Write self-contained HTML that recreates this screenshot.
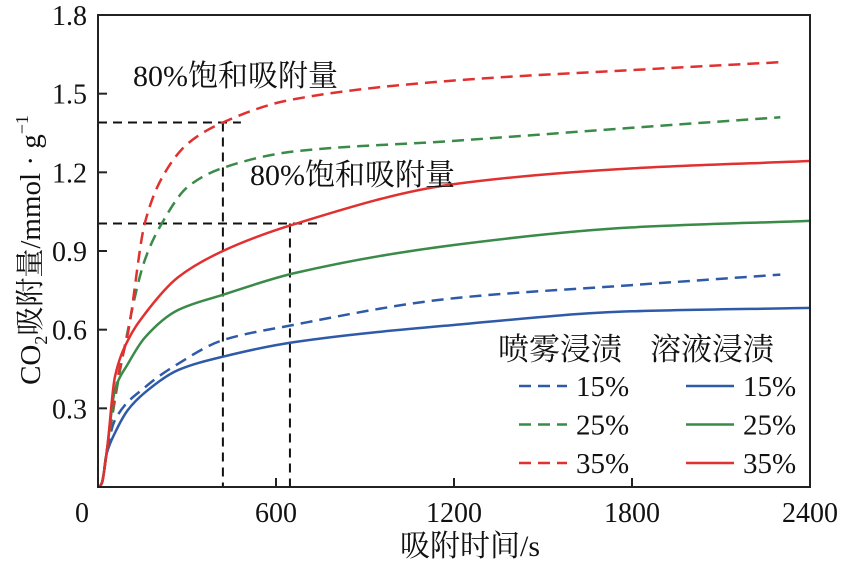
<!DOCTYPE html>
<html><head><meta charset="utf-8"><style>
body{margin:0;background:#fff}
svg text{font-family:"Liberation Serif","Noto Serif CJK SC",serif;fill:#111}
</style></head><body>
<svg width="850" height="565" viewBox="0 0 850 565">
<g id="ticks"></g>
<g id="marks"></g>
<rect x="98" y="15" width="712" height="472" fill="none" stroke="#222" stroke-width="2"/>
<text x="470" y="556" font-size="30" text-anchor="middle">吸附时间/s</text>
<text transform="translate(40,250) rotate(-90)" font-size="29" text-anchor="middle">CO<tspan font-size="18" dy="7">2</tspan><tspan dy="-7">吸附量/mmol · g</tspan><tspan font-size="18" dy="-12">−1</tspan></text>
<text x="133" y="86" font-size="30">80%饱和吸附量</text>
<text x="250" y="185" font-size="30">80%饱和吸附量</text>
<g id="legend"></g>
</svg>
<script>
const xTicks=[0,600,1200,1800,2400];
const yTicks=[0,0.3,0.6,0.9,1.2,1.5,1.8];
const yTickLabels=["","0.3","0.6","0.9","1.2","1.5","1.8"];
const tS35=[5,13,30,67,101,158,216,303,421,647,1200,1800,2300];
const spray35=[0,0.015,0.14,0.42,0.587,1.007,1.18,1.31,1.39,1.476,1.55,1.59,1.62];
const tS25=[5,13,30,81,158,216,303,421,664,1200,1800,2300];
const spray25=[0,0.015,0.14,0.485,0.866,1.007,1.145,1.217,1.28,1.32,1.37,1.41];
const tS15=[5,13,30,57,158,270,421,640,1200,1800,2300];
const spray15=[0,0.015,0.14,0.255,0.38,0.47,0.56,0.614,0.72,0.77,0.81];
const tL35=[5,13,30,57,101,158,270,421,664,1200,1800,2400];
const sol35=[0,0.015,0.14,0.42,0.56,0.66,0.80,0.90,1.003,1.155,1.215,1.243];
const tL25=[5,13,30,57,101,158,270,421,664,1200,1800,2400];
const sol25=[0,0.015,0.14,0.37,0.47,0.57,0.675,0.733,0.816,0.923,0.99,1.015];
const tL15=[5,13,30,57,101,158,270,421,664,1200,1800,2400];
const sol15=[0,0.015,0.13,0.206,0.294,0.36,0.446,0.497,0.553,0.618,0.67,0.683];
const satTimes=[421,647];
const satValues=[1.39,1.005];
const X=t=>98+t*(712/2400), Y=v=>487-v*(472/1.8);
const NS="http://www.w3.org/2000/svg";
function mk(tag,attrs,parent){const e=document.createElementNS(NS,tag);for(const k in attrs)e.setAttribute(k,attrs[k]);document.getElementById(parent).appendChild(e);return e;}
xTicks.forEach(t=>{
 const l=mk('line',{x1:X(t),x2:X(t),y1:487,y2:478,stroke:'#222','stroke-width':2},'ticks');
 
 
 const tx=mk('text',{x:t===0?82:X(t),y:522,'font-size':28,'text-anchor':'middle'},'ticks');tx.textContent=t;
 
 
});
yTicks.forEach((v,i)=>{
 const l=mk('line',{x1:98,x2:107,y1:Y(v),y2:Y(v),stroke:'#222','stroke-width':2},'ticks');
 
 
 const tx=mk('text',{x:87,y:Y(v)+10,'font-size':28,'text-anchor':'end'},'ticks');tx.textContent=yTickLabels[i];
 
 
});
satTimes.forEach((t,i)=>{
 const v=satValues[i];
 const g=mk('path',{d:`M98,${Y(v)}H${X(t)+(i==0?18:28)}M${X(t)},${Y(v)}V487`,fill:'none',stroke:'#111','stroke-width':2,'stroke-dasharray':'9,6'},'marks');
 
 
});
const series=[
 {t:tS15,v:spray15,c:'#2e5aa8',d:true,n:'spray-15'},
 {t:tS25,v:spray25,c:'#3a8a48',d:true,n:'spray-25'},
 {t:tS35,v:spray35,c:'#e03030',d:true,n:'spray-35'},
 {t:tL15,v:sol15,c:'#2e5aa8',d:false,n:'solution-15'},
 {t:tL25,v:sol25,c:'#3a8a48',d:false,n:'solution-25'},
 {t:tL35,v:sol35,c:'#e03030',d:false,n:'solution-35'}];
function monotone(pts){
 const n=pts.length,dx=[],sl=[],m=[];
 for(let i=0;i<n-1;i++){dx[i]=pts[i+1][0]-pts[i][0];sl[i]=(pts[i+1][1]-pts[i][1])/dx[i];}
 m[0]=sl[0];m[n-1]=sl[n-2];
 for(let i=1;i<n-1;i++){m[i]=sl[i-1]*sl[i]<=0?0:3*(dx[i-1]+dx[i])/((2*dx[i]+dx[i-1])/sl[i-1]+(dx[i]+2*dx[i-1])/sl[i]);}
 let d=`M${pts[0][0]},${pts[0][1]}`;
 for(let i=0;i<n-1;i++){const h=dx[i]/3;d+=`C${pts[i][0]+h},${pts[i][1]+m[i]*h} ${pts[i+1][0]-h},${pts[i+1][1]-m[i+1]*h} ${pts[i+1][0]},${pts[i+1][1]}`;}
 return d;}
series.forEach(s=>{
 const p=mk('path',{d:monotone(s.t.map((t,i)=>[X(t),Y(s.v[i])])),fill:'none',stroke:s.c,'stroke-width':2.5},'marks');
 if(s.d)p.setAttribute('stroke-dasharray','12,7');
 
 
});
const h1=mk('text',{x:498,y:360,'font-size':31},'legend');h1.textContent='喷雾浸渍';


const h2=mk('text',{x:650,y:360,'font-size':31},'legend');h2.textContent='溶液浸渍';


const labs=['15%','25%','35%'];
series.forEach((s,i)=>{
 const row=i%3, y=386+row*38.5, x0=s.d?519:686;
 const l=mk('line',{x1:x0,x2:x0+48,y1:y,y2:y,stroke:s.c,'stroke-width':2.5},'legend');
 if(s.d)l.setAttribute('stroke-dasharray','12,7');
 
 
 const tx=mk('text',{x:x0+57,y:y+10,'font-size':29},'legend');tx.textContent=labs[row];
 
 
});
</script>
</body></html>
